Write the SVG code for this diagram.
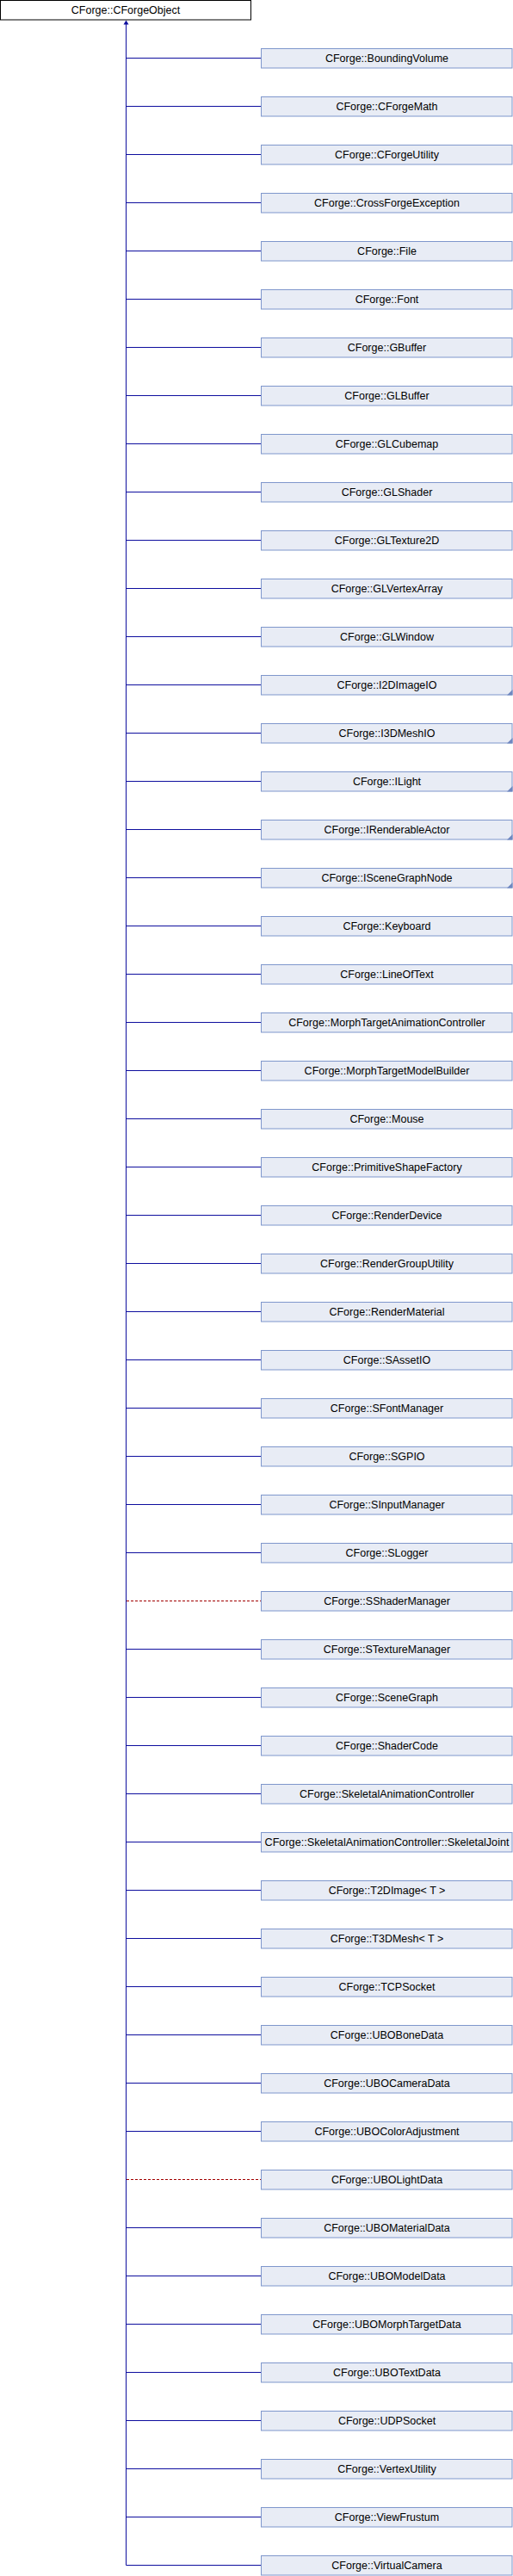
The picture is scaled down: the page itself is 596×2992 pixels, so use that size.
<svg xmlns="http://www.w3.org/2000/svg" width="596" height="2992" viewBox="0 0 596 2992">
<style>
.b{fill:#E8ECF5;stroke:#7F97CC;stroke-width:1}
.r{fill:#FFFFFF;stroke:#000000;stroke-width:1}
.t{font-family:"Liberation Sans",Arial,sans-serif;font-size:12.5px;fill:#000000;text-anchor:middle}
.c{stroke:#0E0E9E;stroke-width:1;fill:none}
.d{stroke:#A00000;stroke-width:1;fill:none;stroke-dasharray:3,2}
.k{fill:#6F87C0}
</style>
<rect width="596" height="2992" fill="#FFFFFF"/>
<g id="connectors">
<line class="c" x1="146.5" y1="27" x2="146.5" y2="2979.5"/>
<polygon points="146.5,23.5 143.5,28.5 149.5,28.5" fill="#0E0E9E"/>
<line class="c" x1="146.5" y1="67.5" x2="303" y2="67.5"/>
<line class="c" x1="146.5" y1="123.5" x2="303" y2="123.5"/>
<line class="c" x1="146.5" y1="179.5" x2="303" y2="179.5"/>
<line class="c" x1="146.5" y1="235.5" x2="303" y2="235.5"/>
<line class="c" x1="146.5" y1="291.5" x2="303" y2="291.5"/>
<line class="c" x1="146.5" y1="347.5" x2="303" y2="347.5"/>
<line class="c" x1="146.5" y1="403.5" x2="303" y2="403.5"/>
<line class="c" x1="146.5" y1="459.5" x2="303" y2="459.5"/>
<line class="c" x1="146.5" y1="515.5" x2="303" y2="515.5"/>
<line class="c" x1="146.5" y1="571.5" x2="303" y2="571.5"/>
<line class="c" x1="146.5" y1="627.5" x2="303" y2="627.5"/>
<line class="c" x1="146.5" y1="683.5" x2="303" y2="683.5"/>
<line class="c" x1="146.5" y1="739.5" x2="303" y2="739.5"/>
<line class="c" x1="146.5" y1="795.5" x2="303" y2="795.5"/>
<line class="c" x1="146.5" y1="851.5" x2="303" y2="851.5"/>
<line class="c" x1="146.5" y1="907.5" x2="303" y2="907.5"/>
<line class="c" x1="146.5" y1="963.5" x2="303" y2="963.5"/>
<line class="c" x1="146.5" y1="1019.5" x2="303" y2="1019.5"/>
<line class="c" x1="146.5" y1="1075.5" x2="303" y2="1075.5"/>
<line class="c" x1="146.5" y1="1131.5" x2="303" y2="1131.5"/>
<line class="c" x1="146.5" y1="1187.5" x2="303" y2="1187.5"/>
<line class="c" x1="146.5" y1="1243.5" x2="303" y2="1243.5"/>
<line class="c" x1="146.5" y1="1299.5" x2="303" y2="1299.5"/>
<line class="c" x1="146.5" y1="1355.5" x2="303" y2="1355.5"/>
<line class="c" x1="146.5" y1="1411.5" x2="303" y2="1411.5"/>
<line class="c" x1="146.5" y1="1467.5" x2="303" y2="1467.5"/>
<line class="c" x1="146.5" y1="1523.5" x2="303" y2="1523.5"/>
<line class="c" x1="146.5" y1="1579.5" x2="303" y2="1579.5"/>
<line class="c" x1="146.5" y1="1635.5" x2="303" y2="1635.5"/>
<line class="c" x1="146.5" y1="1691.5" x2="303" y2="1691.5"/>
<line class="c" x1="146.5" y1="1747.5" x2="303" y2="1747.5"/>
<line class="c" x1="146.5" y1="1803.5" x2="303" y2="1803.5"/>
<line class="d" x1="147" y1="1859.5" x2="303" y2="1859.5"/>
<line class="c" x1="146.5" y1="1915.5" x2="303" y2="1915.5"/>
<line class="c" x1="146.5" y1="1971.5" x2="303" y2="1971.5"/>
<line class="c" x1="146.5" y1="2027.5" x2="303" y2="2027.5"/>
<line class="c" x1="146.5" y1="2083.5" x2="303" y2="2083.5"/>
<line class="c" x1="146.5" y1="2139.5" x2="303" y2="2139.5"/>
<line class="c" x1="146.5" y1="2195.5" x2="303" y2="2195.5"/>
<line class="c" x1="146.5" y1="2251.5" x2="303" y2="2251.5"/>
<line class="c" x1="146.5" y1="2307.5" x2="303" y2="2307.5"/>
<line class="c" x1="146.5" y1="2363.5" x2="303" y2="2363.5"/>
<line class="c" x1="146.5" y1="2419.5" x2="303" y2="2419.5"/>
<line class="c" x1="146.5" y1="2475.5" x2="303" y2="2475.5"/>
<line class="d" x1="147" y1="2531.5" x2="303" y2="2531.5"/>
<line class="c" x1="146.5" y1="2587.5" x2="303" y2="2587.5"/>
<line class="c" x1="146.5" y1="2643.5" x2="303" y2="2643.5"/>
<line class="c" x1="146.5" y1="2699.5" x2="303" y2="2699.5"/>
<line class="c" x1="146.5" y1="2755.5" x2="303" y2="2755.5"/>
<line class="c" x1="146.5" y1="2811.5" x2="303" y2="2811.5"/>
<line class="c" x1="146.5" y1="2867.5" x2="303" y2="2867.5"/>
<line class="c" x1="146.5" y1="2923.5" x2="303" y2="2923.5"/>
<line class="c" x1="146.5" y1="2979.5" x2="303" y2="2979.5"/>
</g>
<g id="root"><rect class="r" x="0.5" y="0.5" width="291" height="22.5"/><text class="t" x="146" y="16">CForge::CForgeObject</text></g>
<g id="n1"><rect class="b" x="303.5" y="56.5" width="291.5" height="22.5"/><text class="t" x="449.5" y="72">CForge::BoundingVolume</text></g>
<g id="n2"><rect class="b" x="303.5" y="112.5" width="291.5" height="22.5"/><text class="t" x="449.5" y="128">CForge::CForgeMath</text></g>
<g id="n3"><rect class="b" x="303.5" y="168.5" width="291.5" height="22.5"/><text class="t" x="449.5" y="184">CForge::CForgeUtility</text></g>
<g id="n4"><rect class="b" x="303.5" y="224.5" width="291.5" height="22.5"/><text class="t" x="449.5" y="240">CForge::CrossForgeException</text></g>
<g id="n5"><rect class="b" x="303.5" y="280.5" width="291.5" height="22.5"/><text class="t" x="449.5" y="296">CForge::File</text></g>
<g id="n6"><rect class="b" x="303.5" y="336.5" width="291.5" height="22.5"/><text class="t" x="449.5" y="352">CForge::Font</text></g>
<g id="n7"><rect class="b" x="303.5" y="392.5" width="291.5" height="22.5"/><text class="t" x="449.5" y="408">CForge::GBuffer</text></g>
<g id="n8"><rect class="b" x="303.5" y="448.5" width="291.5" height="22.5"/><text class="t" x="449.5" y="464">CForge::GLBuffer</text></g>
<g id="n9"><rect class="b" x="303.5" y="504.5" width="291.5" height="22.5"/><text class="t" x="449.5" y="520">CForge::GLCubemap</text></g>
<g id="n10"><rect class="b" x="303.5" y="560.5" width="291.5" height="22.5"/><text class="t" x="449.5" y="576">CForge::GLShader</text></g>
<g id="n11"><rect class="b" x="303.5" y="616.5" width="291.5" height="22.5"/><text class="t" x="449.5" y="632">CForge::GLTexture2D</text></g>
<g id="n12"><rect class="b" x="303.5" y="672.5" width="291.5" height="22.5"/><text class="t" x="449.5" y="688">CForge::GLVertexArray</text></g>
<g id="n13"><rect class="b" x="303.5" y="728.5" width="291.5" height="22.5"/><text class="t" x="449.5" y="744">CForge::GLWindow</text></g>
<g id="n14"><rect class="b" x="303.5" y="784.5" width="291.5" height="22.5"/><polygon class="k" points="595.5,801 595.5,807.5 589,807.5"/><text class="t" x="449.5" y="800">CForge::I2DImageIO</text></g>
<g id="n15"><rect class="b" x="303.5" y="840.5" width="291.5" height="22.5"/><polygon class="k" points="595.5,857 595.5,863.5 589,863.5"/><text class="t" x="449.5" y="856">CForge::I3DMeshIO</text></g>
<g id="n16"><rect class="b" x="303.5" y="896.5" width="291.5" height="22.5"/><polygon class="k" points="595.5,913 595.5,919.5 589,919.5"/><text class="t" x="449.5" y="912">CForge::ILight</text></g>
<g id="n17"><rect class="b" x="303.5" y="952.5" width="291.5" height="22.5"/><polygon class="k" points="595.5,969 595.5,975.5 589,975.5"/><text class="t" x="449.5" y="968">CForge::IRenderableActor</text></g>
<g id="n18"><rect class="b" x="303.5" y="1008.5" width="291.5" height="22.5"/><polygon class="k" points="595.5,1025 595.5,1031.5 589,1031.5"/><text class="t" x="449.5" y="1024">CForge::ISceneGraphNode</text></g>
<g id="n19"><rect class="b" x="303.5" y="1064.5" width="291.5" height="22.5"/><text class="t" x="449.5" y="1080">CForge::Keyboard</text></g>
<g id="n20"><rect class="b" x="303.5" y="1120.5" width="291.5" height="22.5"/><text class="t" x="449.5" y="1136">CForge::LineOfText</text></g>
<g id="n21"><rect class="b" x="303.5" y="1176.5" width="291.5" height="22.5"/><text class="t" x="449.5" y="1192">CForge::MorphTargetAnimationController</text></g>
<g id="n22"><rect class="b" x="303.5" y="1232.5" width="291.5" height="22.5"/><text class="t" x="449.5" y="1248">CForge::MorphTargetModelBuilder</text></g>
<g id="n23"><rect class="b" x="303.5" y="1288.5" width="291.5" height="22.5"/><text class="t" x="449.5" y="1304">CForge::Mouse</text></g>
<g id="n24"><rect class="b" x="303.5" y="1344.5" width="291.5" height="22.5"/><text class="t" x="449.5" y="1360">CForge::PrimitiveShapeFactory</text></g>
<g id="n25"><rect class="b" x="303.5" y="1400.5" width="291.5" height="22.5"/><text class="t" x="449.5" y="1416">CForge::RenderDevice</text></g>
<g id="n26"><rect class="b" x="303.5" y="1456.5" width="291.5" height="22.5"/><text class="t" x="449.5" y="1472">CForge::RenderGroupUtility</text></g>
<g id="n27"><rect class="b" x="303.5" y="1512.5" width="291.5" height="22.5"/><text class="t" x="449.5" y="1528">CForge::RenderMaterial</text></g>
<g id="n28"><rect class="b" x="303.5" y="1568.5" width="291.5" height="22.5"/><text class="t" x="449.5" y="1584">CForge::SAssetIO</text></g>
<g id="n29"><rect class="b" x="303.5" y="1624.5" width="291.5" height="22.5"/><text class="t" x="449.5" y="1640">CForge::SFontManager</text></g>
<g id="n30"><rect class="b" x="303.5" y="1680.5" width="291.5" height="22.5"/><text class="t" x="449.5" y="1696">CForge::SGPIO</text></g>
<g id="n31"><rect class="b" x="303.5" y="1736.5" width="291.5" height="22.5"/><text class="t" x="449.5" y="1752">CForge::SInputManager</text></g>
<g id="n32"><rect class="b" x="303.5" y="1792.5" width="291.5" height="22.5"/><text class="t" x="449.5" y="1808">CForge::SLogger</text></g>
<g id="n33"><rect class="b" x="303.5" y="1848.5" width="291.5" height="22.5"/><text class="t" x="449.5" y="1864">CForge::SShaderManager</text></g>
<g id="n34"><rect class="b" x="303.5" y="1904.5" width="291.5" height="22.5"/><text class="t" x="449.5" y="1920">CForge::STextureManager</text></g>
<g id="n35"><rect class="b" x="303.5" y="1960.5" width="291.5" height="22.5"/><text class="t" x="449.5" y="1976">CForge::SceneGraph</text></g>
<g id="n36"><rect class="b" x="303.5" y="2016.5" width="291.5" height="22.5"/><text class="t" x="449.5" y="2032">CForge::ShaderCode</text></g>
<g id="n37"><rect class="b" x="303.5" y="2072.5" width="291.5" height="22.5"/><text class="t" x="449.5" y="2088">CForge::SkeletalAnimationController</text></g>
<g id="n38"><rect class="b" x="303.5" y="2128.5" width="291.5" height="22.5"/><text class="t" x="449.5" y="2144" textLength="284" lengthAdjust="spacingAndGlyphs">CForge::SkeletalAnimationController::SkeletalJoint</text></g>
<g id="n39"><rect class="b" x="303.5" y="2184.5" width="291.5" height="22.5"/><text class="t" x="449.5" y="2200">CForge::T2DImage&lt; T &gt;</text></g>
<g id="n40"><rect class="b" x="303.5" y="2240.5" width="291.5" height="22.5"/><text class="t" x="449.5" y="2256">CForge::T3DMesh&lt; T &gt;</text></g>
<g id="n41"><rect class="b" x="303.5" y="2296.5" width="291.5" height="22.5"/><text class="t" x="449.5" y="2312">CForge::TCPSocket</text></g>
<g id="n42"><rect class="b" x="303.5" y="2352.5" width="291.5" height="22.5"/><text class="t" x="449.5" y="2368">CForge::UBOBoneData</text></g>
<g id="n43"><rect class="b" x="303.5" y="2408.5" width="291.5" height="22.5"/><text class="t" x="449.5" y="2424">CForge::UBOCameraData</text></g>
<g id="n44"><rect class="b" x="303.5" y="2464.5" width="291.5" height="22.5"/><text class="t" x="449.5" y="2480">CForge::UBOColorAdjustment</text></g>
<g id="n45"><rect class="b" x="303.5" y="2520.5" width="291.5" height="22.5"/><text class="t" x="449.5" y="2536">CForge::UBOLightData</text></g>
<g id="n46"><rect class="b" x="303.5" y="2576.5" width="291.5" height="22.5"/><text class="t" x="449.5" y="2592">CForge::UBOMaterialData</text></g>
<g id="n47"><rect class="b" x="303.5" y="2632.5" width="291.5" height="22.5"/><text class="t" x="449.5" y="2648">CForge::UBOModelData</text></g>
<g id="n48"><rect class="b" x="303.5" y="2688.5" width="291.5" height="22.5"/><text class="t" x="449.5" y="2704">CForge::UBOMorphTargetData</text></g>
<g id="n49"><rect class="b" x="303.5" y="2744.5" width="291.5" height="22.5"/><text class="t" x="449.5" y="2760">CForge::UBOTextData</text></g>
<g id="n50"><rect class="b" x="303.5" y="2800.5" width="291.5" height="22.5"/><text class="t" x="449.5" y="2816">CForge::UDPSocket</text></g>
<g id="n51"><rect class="b" x="303.5" y="2856.5" width="291.5" height="22.5"/><text class="t" x="449.5" y="2872">CForge::VertexUtility</text></g>
<g id="n52"><rect class="b" x="303.5" y="2912.5" width="291.5" height="22.5"/><text class="t" x="449.5" y="2928">CForge::ViewFrustum</text></g>
<g id="n53"><rect class="b" x="303.5" y="2968.5" width="291.5" height="22.5"/><text class="t" x="449.5" y="2984">CForge::VirtualCamera</text></g>
</svg>
